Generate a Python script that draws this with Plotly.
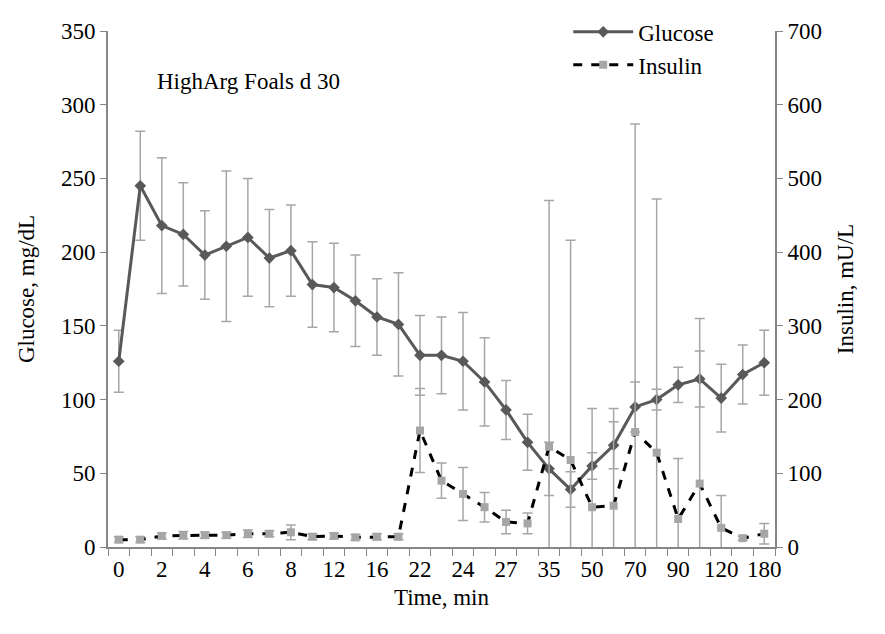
import plotly.graph_objects as go

times = ["0","1","2","3","4","5","6","7","8","10","12","14","16","19","22","23","24","25","27","30","35","40","50","60","70","80","90","100","120","150","180"]
glucose = [126,245,218,212,198,204,210,196,201,178,176,167,156,151,130,130,126,112,93,71,53,39,55,69,95,100,110,114,101,117,125]
glucose_err = [21,37,46,35,30,51,40,33,31,29,30,31,26,35,27,26,33,30,20,19,18,12,9,16,17,7,12,19,23,20,22]
insulin = [10,10,15,16,16,16,18,18,20,14,15,13,14,14,158,90,72,54,34,32,136,118,54,56,156,128,38,86,26,12,18]
insulin_err = [4,4,4,5,4,4,5,4,10,4,4,4,4,4,57,24,36,20,16,14,334,298,134,132,418,344,82,224,44,3,14]

x = list(range(len(times)))
gray = "#A6A6A6"
fnt = "Liberation Serif"
tf = dict(family=fnt, size=23, color="black")

fig = go.Figure()
fig.add_trace(go.Scatter(x=x, y=glucose, name="Glucose", mode="lines+markers",
    line=dict(color="#595959", width=3), marker=dict(symbol="diamond", size=9, color="#595959"),
    error_y=dict(type="data", array=glucose_err, color=gray, thickness=1.5, width=5)))
fig.add_trace(go.Scatter(x=x, y=insulin, name="Insulin", mode="lines+markers", yaxis="y2",
    line=dict(color="black", width=3, dash="dash"), marker=dict(symbol="square", size=8, color=gray),
    error_y=dict(type="data", array=insulin_err, color=gray, thickness=1.5, width=5)))

fig.update_layout(
    width=885, height=634, plot_bgcolor="white", paper_bgcolor="white",
    margin=dict(l=100, r=118, t=23, b=95, autoexpand=False),
    font=tf,
    xaxis=dict(range=[-0.5, 30.5], tickvals=x[::2], ticktext=times[::2], ticks="", tickfont=tf,
               showline=True, linecolor="#868686", linewidth=2, showgrid=False, zeroline=False,
               title=dict(text="Time, min", standoff=8, font=tf),
               minor=dict(tickvals=[i + 0.5 for i in range(-1, 31)], ticks="outside", ticklen=7, tickcolor="#868686", showgrid=False)),
    yaxis=dict(range=[0, 350], dtick=50, ticks="outside", ticklen=6, tickcolor="#868686", tickfont=tf,
               showline=True, linecolor="#868686", linewidth=2, showgrid=False, zeroline=False,
               title=dict(text="Glucose, mg/dL", standoff=20, font=tf)),
    yaxis2=dict(range=[0, 700], dtick=100, overlaying="y", side="right", ticks="outside", ticklen=6,
                tickcolor="#868686", showline=True, linecolor="#868686", linewidth=2, showgrid=False, tickfont=tf,
                zeroline=False, title=dict(text="Insulin, mU/L", standoff=16, font=tf)),
    legend=dict(x=0.69, y=1.04, xanchor="left", yanchor="top", bgcolor="rgba(0,0,0,0)", font=tf,
                itemwidth=60, tracegroupgap=4),
    showlegend=True,
    annotations=[dict(text="HighArg Foals d 30", x=0.07, y=0.93, xref="paper", yref="paper",
                      showarrow=False, xanchor="left", font=tf)],
)
fig.write_html("out.html")
